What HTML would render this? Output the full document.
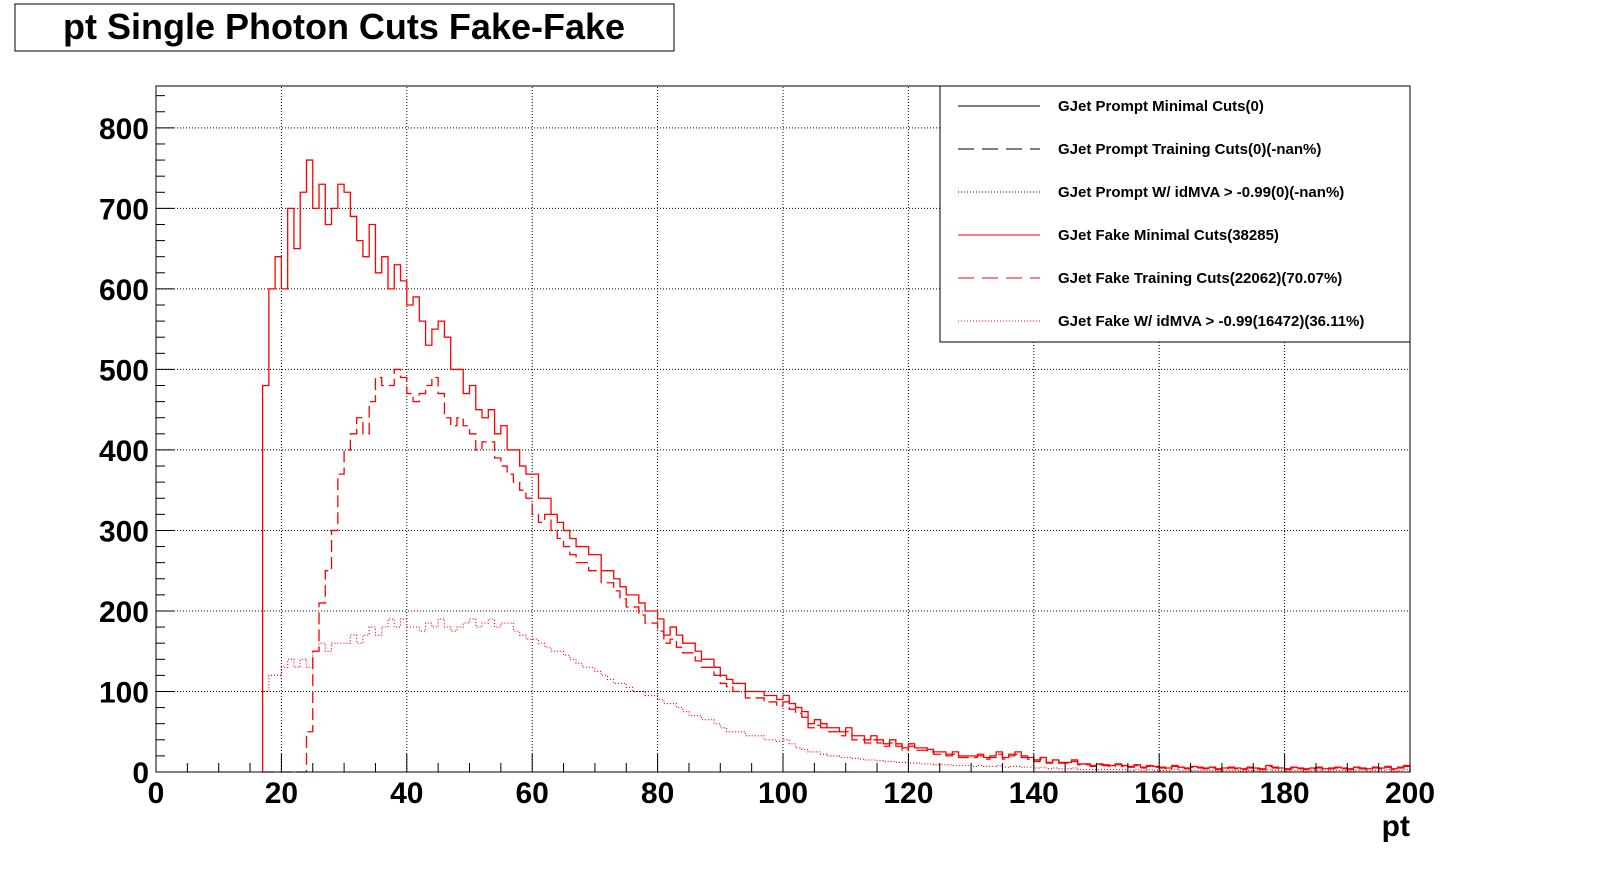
<!DOCTYPE html>
<html><head><meta charset="utf-8"><style>
body{margin:0;background:#fff;width:1598px;height:874px;overflow:hidden;font-family:"Liberation Sans",sans-serif}
svg text{font-family:"Liberation Sans",sans-serif;font-weight:bold}
</style></head><body>
<svg id="c" width="1598" height="874" xmlns="http://www.w3.org/2000/svg">
<rect x="15" y="4" width="659" height="47" fill="#fff" stroke="#000" stroke-width="1"/>
<text x="344" y="39" font-size="36" text-anchor="middle">pt Single Photon Cuts Fake-Fake</text>
<g id="grid"></g><g id="hist"></g><g id="axes"></g>
<text x="1410" y="836" font-size="30" text-anchor="end">pt</text>
<g id="legend"></g>
</svg>
<script>
const binStart = 17;
const minimalVals = [480,600,640,600,700,650,720,760,700,730,680,700,730,720,690,660,640,680,620,640,600,630,610,580,590,560,530,550,560,540,500,500,470,480,450,440,450,420,430,400,400,380,370,370,340,340,320,310,300,290,280,280,270,270,250,250,240,230,220,220,210,200,200,190,170,180,170,160,160,150,140,140,130,120,115,110,110,100,100,100,95,95,90,95,85,80,75,60,65,60,55,55,50,55,45,45,40,45,40,35,40,35,30,35,30,30,28,25,25,22,25,20,20,20,22,18,20,25,18,22,25,20,18,15,18,12,15,12,12,15,10,10,8,10,9,8,10,8,7,9,6,8,7,6,5,8,6,5,7,6,5,6,4,5,6,5,4,6,5,4,8,6,5,4,6,5,4,5,6,4,5,6,5,4,6,5,4,6,5,7,4,6,8];
const trainingVals = [0,0,0,0,0,0,0,50,150,210,250,300,370,400,420,440,420,460,490,480,480,500,490,470,460,470,480,490,470,440,430,440,430,420,400,410,410,390,380,370,360,350,340,320,310,320,300,290,280,270,260,260,250,250,235,235,225,215,205,205,195,185,185,175,160,165,155,148,148,138,130,130,120,110,106,100,100,92,92,92,87,87,82,87,78,73,68,55,58,55,50,50,45,50,40,40,36,40,36,32,36,32,27,32,27,27,25,22,22,20,22,18,18,18,20,16,18,22,16,20,22,18,16,13,16,11,13,11,11,13,9,9,7,9,8,7,9,7,6,8,5,7,6,5,4,7,5,4,6,5,4,5,3,4,5,4,3,5,4,3,7,5,4,3,5,4,3,4,5,3,4,5,4,3,5,4,3,5,4,6,3,5,7];
const mvaVals = [100,120,120,130,140,130,140,130,150,160,150,160,160,160,170,160,170,180,170,180,190,180,190,180,180,175,185,180,190,180,175,180,185,190,180,185,190,180,185,185,175,170,165,165,160,155,150,150,145,140,135,130,130,125,120,115,110,110,105,100,100,95,95,90,85,85,80,75,70,70,65,65,60,55,50,50,50,45,45,45,40,40,38,40,35,30,28,25,25,22,20,20,18,18,17,16,15,15,14,13,13,12,12,11,11,10,10,9,9,9,8,8,8,7,8,7,7,8,6,7,7,6,6,5,6,4,5,4,4,5,3,3,3,3,3,3,3,3,2,3,2,3,2,2,2,3,2,2,2,2,2,2,1,2,2,2,1,2,2,1,3,2,2,1,2,2,1,2,2,1,2,2,2,1,2,2,1,2,2,3,1,2,3];
const xTicks = [0,20,40,60,80,100,120,140,160,180,200];
const yTicks = [0,100,200,300,400,500,600,700,800];
const legendLabels = ["GJet Prompt Minimal Cuts(0)","GJet Prompt Training Cuts(0)(-nan%)","GJet Prompt W/ idMVA > -0.99(0)(-nan%)","GJet Fake Minimal Cuts(38285)","GJet Fake Training Cuts(22062)(70.07%)","GJet Fake W/ idMVA > -0.99(16472)(36.11%)"];

const NS="http://www.w3.org/2000/svg";
const X0=156,X1=1410,Y0=772,Y1=86;
const xs=v=>X0+(v/200)*(X1-X0);
const ys=v=>Y0-(v/852)*(Y0-Y1);
function mk(tag,attrs,parent){const e=document.createElementNS(NS,tag);for(const k in attrs)e.setAttribute(k,attrs[k]);document.getElementById(parent).appendChild(e);return e;}

xTicks.forEach(t=>{if(t>0&&t<200){const l=mk('line',{x1:xs(t),x2:xs(t),y1:Y0,y2:Y1,stroke:'#000','stroke-dasharray':'1,2','stroke-width':1},'grid');

}});
yTicks.forEach(t=>{if(t>0){const l=mk('line',{x1:X0,x2:X1,y1:ys(t),y2:ys(t),stroke:'#000','stroke-dasharray':'1,2','stroke-width':1},'grid');

}});

function histPath(vals){let d='M'+xs(binStart)+','+Y0;
vals.forEach((v,i)=>{const lo=binStart+i,hi=Math.min(lo+1,200);d+=' L'+xs(lo)+','+ys(v)+' L'+xs(hi)+','+ys(v);});
d+=' L'+xs(Math.min(binStart+vals.length,200))+','+Y0;return d;}
const s1=mk('path',{d:histPath(minimalVals),fill:'none',stroke:'#f00','stroke-width':1.3},'hist');


const s2=mk('path',{d:histPath(trainingVals),fill:'none',stroke:'#f00','stroke-width':1.3,'stroke-dasharray':'12,5'},'hist');


const s3=mk('path',{d:histPath(mvaVals),fill:'none',stroke:'#f00','stroke-width':1.2,'stroke-dasharray':'1,2'},'hist');



const fr=mk('rect',{x:X0,y:Y1,width:X1-X0,height:Y0-Y1,fill:'none',stroke:'#000','stroke-width':1},'axes');


for(let v=0;v<=200;v+=5){const major=v%20===0;const l=mk('line',{x1:xs(v),x2:xs(v),y1:Y0,y2:Y0-(major?18:9),stroke:'#000'},'axes');

}
for(let v=0;v<=840;v+=20){const major=v%100===0;const l=mk('line',{x1:X0,x2:X0+(major?18:9),y1:ys(v),y2:ys(v),stroke:'#000'},'axes');

}
xTicks.forEach(t=>{const e=mk('text',{x:xs(t),y:803,'font-size':30,'text-anchor':'middle'},'axes');e.textContent=t;

});
yTicks.forEach(t=>{const e=mk('text',{x:149,y:ys(t)+11,'font-size':30,'text-anchor':'end'},'axes');e.textContent=t;

});

const lb=mk('rect',{x:940,y:86,width:470,height:256,fill:'#fff',stroke:'#000'},'legend');


const dashes=['none','16,8','1,2','none','16,8','1,2'];
legendLabels.forEach((t,i)=>{const y=106+i*43;const col=i<3?'#000':'#f00';
const l=mk('line',{x1:958,x2:1040,y1:y,y2:y,stroke:col,'stroke-dasharray':dashes[i]},'legend');


const e=mk('text',{x:1058,y:y+5,'font-size':15},'legend');e.textContent=t;

});
</script>
</body></html>
